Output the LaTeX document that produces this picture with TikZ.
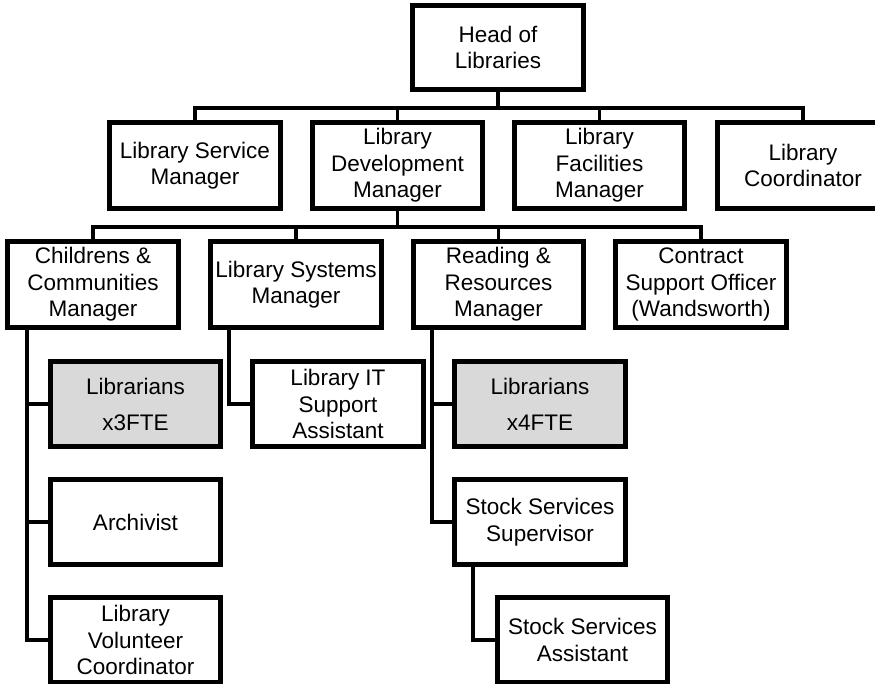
\documentclass[tikz,border=0pt]{standalone}
\usepackage{fontspec}
\setmainfont{Liberation Sans}
\begin{document}
\begin{tikzpicture}[x=1pt,y=-1pt,
  box/.style={draw=black,line width=3.3pt,fill=white,minimum width=169pt,minimum height=84pt,
    inner sep=0pt,align=center,font=\fontsize{22.5}{26.5}\selectfont},
  greybox/.style={box,fill=black!15,font=\fontsize{22.5}{36}\selectfont},
  conn/.style={line width=3.3pt,line join=miter,line cap=rect}]
\clip (0,0) rectangle (875,683);
\fill[white] (0,0) rectangle (875,683);
% nodes
\node[box,minimum width=170pt,minimum height=83pt] (head) at (498,47.5) {Head of\\Libraries};
\node[box] (lsm) at (195,165.5) {Library Service\\Manager};
\node[box] (ldm) at (397.5,165.5) {Library\\Development\\Manager};
\node[box] (lfm) at (599.5,165.5) {Library\\Facilities\\Manager};
\node[box] (lc) at (803,165.5) {Library\\Coordinator};
\node[box] (ccm) at (93,284.5) {Childrens \&\\Communities\\Manager};
\node[box] (lsys) at (296,284.5) {Library Systems\\Manager};
\node[box] (rrm) at (498.5,284.5) {Reading \&\\Resources\\Manager};
\node[box] (cso) at (701,284.5) {Contract\\Support Officer\\(Wandsworth)};
\node[greybox] (lib3) at (135.5,404) {Librarians\\x3FTE};
\node[box] (it) at (338,404) {Library IT\\Support\\Assistant};
\node[greybox] (lib4) at (540,404) {Librarians\\x4FTE};
\node[box] (arch) at (135.5,522) {Archivist};
\node[box] (sss) at (540,522) {Stock Services\\Supervisor};
\node[box] (lvc) at (135.5,640) {Library\\Volunteer\\Coordinator};
\node[box] (ssa) at (582.5,640) {Stock Services\\Assistant};
% bus coordinates
\coordinate (bus1) at (498,108);
\coordinate (bus2) at (397.5,227);
\coordinate (spc) at (27,0);
\coordinate (sps) at (229,0);
\coordinate (spr) at (432,0);
\coordinate (spss) at (473,0);
% connectors
\draw[conn] (head.south) -- (bus1);
\draw[conn] (lsm.north) -- (lsm.north |- bus1) -- (lc.north |- bus1) -- (lc.north);
\draw[conn] (ldm.north) -- (ldm.north |- bus1);
\draw[conn] (lfm.north) -- (lfm.north |- bus1);
\draw[conn] (ldm.south) -- (bus2);
\draw[conn] (ccm.north) -- (ccm.north |- bus2) -- (cso.north |- bus2) -- (cso.north);
\draw[conn] (lsys.north) -- (lsys.north |- bus2);
\draw[conn] (rrm.north) -- (rrm.north |- bus2);
\draw[conn] (ccm.south -| spc) |- (lvc.west);
\draw[conn] (spc |- lib3.west) -- (lib3.west);
\draw[conn] (spc |- arch.west) -- (arch.west);
\draw[conn] (lsys.south -| sps) |- (it.west);
\draw[conn] (rrm.south -| spr) |- (sss.west);
\draw[conn] (spr |- lib4.west) -- (lib4.west);
\draw[conn] (sss.south -| spss) |- (ssa.west);
% redraw nodes on top of connector ends
\foreach \n in {head,lsm,ldm,lfm,lc,ccm,lsys,rrm,cso,lib3,it,lib4,arch,sss,lvc,ssa}{
  \draw[line width=3.3pt] (\n.north west) rectangle (\n.south east);
}
\end{tikzpicture}
\end{document}
